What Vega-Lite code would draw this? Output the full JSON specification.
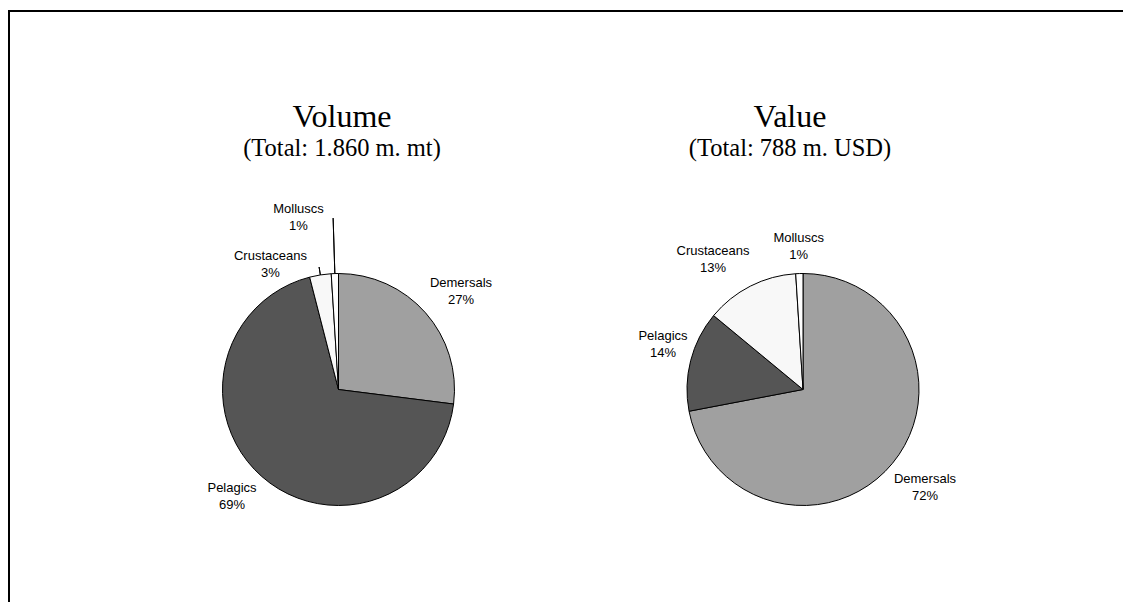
{
  "$schema": "https://vega.github.io/schema/vega-lite/v6.json",
  "width": 1127,
  "height": 757,
  "autosize": {"type": "none"},
  "padding": {"left": 9, "top": 11, "right": -13, "bottom": -166},
  "background": "white",
  "config": {
    "view": {"stroke": "black", "strokeWidth": 2},
    "font": "Liberation Sans"
  },
  "data": {
    "values": [
      {"chart": "Volume", "group": "Demersals", "share": 0.27},
      {"chart": "Volume", "group": "Pelagics", "share": 0.69},
      {"chart": "Volume", "group": "Crustaceans", "share": 0.03},
      {"chart": "Volume", "group": "Molluscs", "share": 0.01},
      {"chart": "Value", "group": "Demersals", "share": 0.72},
      {"chart": "Value", "group": "Pelagics", "share": 0.14},
      {"chart": "Value", "group": "Crustaceans", "share": 0.13},
      {"chart": "Value", "group": "Molluscs", "share": 0.01}
    ]
  },
  "layer": [
    {
      "transform": [
        {"filter": "datum.chart === 'Volume'"},
        {"window": [{"op": "row_number", "as": "rank"}]}
      ],
      "encoding": {
        "x": {"field": "chart", "type": "nominal", "scale": {"type": "point", "domain": ["Volume", "Value"], "range": [329.5, 794], "padding": 0}, "axis": null},
        "theta": {"field": "share", "type": "quantitative", "stack": true, "scale": {"domain": [0, 1]}},
        "order": {"field": "rank", "type": "quantitative"}
      },
      "layer": [
        {
          "mark": {"type": "arc", "radius": 116, "stroke": "black", "strokeWidth": 1},
          "encoding": {
            "color": {"field": "group", "type": "nominal", "scale": {"domain": ["Demersals", "Pelagics", "Crustaceans", "Molluscs"], "range": ["#a0a0a0", "#555555", "#f8f8f8", "#ffffff"]}, "legend": null}
          }
        },
        {
          "mark": {"type": "arc", "innerRadius": 116, "radius": 171.5, "padAngle": 3, "fill": "transparent", "stroke": "black", "strokeWidth": 1},
          "encoding": {
            "detail": {"field": "group"},
            "strokeOpacity": {"condition": {"test": "datum.group === 'Molluscs'", "value": 1}, "value": 0}
          }
        },
        {
          "mark": {"type": "arc", "innerRadius": 116, "radius": 124, "padAngle": 3, "fill": "transparent", "stroke": "black", "strokeWidth": 1},
          "encoding": {
            "detail": {"field": "group"},
            "strokeOpacity": {"condition": {"test": "datum.group === 'Crustaceans'", "value": 1}, "value": 0}
          }
        },
        {
          "mark": {
            "type": "text", "radius": 153, "align": "center", "baseline": "alphabetic",
            "font": "Liberation Sans", "fontSize": 13, "fill": "black",
            "dx": {"expr": "{'Demersals': 7.7, 'Pelagics': -5.3, 'Crustaceans': -44.1, 'Molluscs': -35.2}[datum.group]"},
            "dy": {"expr": "{'Demersals': 2.4, 'Pelagics': -8.6, 'Crustaceans': 25.6, 'Molluscs': -19.9}[datum.group] - 4"}
          },
          "encoding": {"detail": {"field": "group"}, "text": {"field": "group"}}
        },
        {
          "mark": {
            "type": "text", "radius": 153, "align": "center", "baseline": "alphabetic",
            "font": "Liberation Sans", "fontSize": 13, "fill": "black",
            "dx": {"expr": "{'Demersals': 7.7, 'Pelagics': -5.3, 'Crustaceans': -44.1, 'Molluscs': -35.2}[datum.group]"},
            "dy": {"expr": "{'Demersals': 2.4, 'Pelagics': -8.6, 'Crustaceans': 25.6, 'Molluscs': -19.9}[datum.group] + 13"}
          },
          "encoding": {"detail": {"field": "group"}, "text": {"field": "share", "type": "quantitative", "format": ".0%"}}
        }
      ]
    },
    {
      "transform": [
        {"filter": "datum.chart === 'Value'"},
        {"window": [{"op": "row_number", "as": "rank"}]}
      ],
      "encoding": {
        "x": {"field": "chart", "type": "nominal", "scale": {"type": "point", "domain": ["Volume", "Value"], "range": [329.5, 794], "padding": 0}, "axis": null},
        "theta": {"field": "share", "type": "quantitative", "stack": true, "scale": {"domain": [0, 1]}},
        "order": {"field": "rank", "type": "quantitative"}
      },
      "layer": [
        {
          "mark": {"type": "arc", "radius": 116, "stroke": "black", "strokeWidth": 1},
          "encoding": {
            "color": {"field": "group", "type": "nominal", "scale": {"domain": ["Demersals", "Pelagics", "Crustaceans", "Molluscs"], "range": ["#a0a0a0", "#555555", "#f8f8f8", "#ffffff"]}, "legend": null}
          }
        },
        {
          "mark": {
            "type": "text", "radius": 153, "align": "center", "baseline": "alphabetic",
            "font": "Liberation Sans", "fontSize": 13, "fill": "black",
            "dx": {"expr": "{'Demersals': 4.1, 'Pelagics': 8.2, 'Crustaceans': -20.5, 'Molluscs': 0.5}[datum.group]"},
            "dy": {"expr": "{'Demersals': -0.3, 'Pelagics': -7.4, 'Crustaceans': 5.8, 'Molluscs': 9.1}[datum.group] - 4"}
          },
          "encoding": {"detail": {"field": "group"}, "text": {"field": "group"}}
        },
        {
          "mark": {
            "type": "text", "radius": 153, "align": "center", "baseline": "alphabetic",
            "font": "Liberation Sans", "fontSize": 13, "fill": "black",
            "dx": {"expr": "{'Demersals': 4.1, 'Pelagics': 8.2, 'Crustaceans': -20.5, 'Molluscs': 0.5}[datum.group]"},
            "dy": {"expr": "{'Demersals': -0.3, 'Pelagics': -7.4, 'Crustaceans': 5.8, 'Molluscs': 9.1}[datum.group] + 13"}
          },
          "encoding": {"detail": {"field": "group"}, "text": {"field": "share", "type": "quantitative", "format": ".0%"}}
        }
      ]
    },
    {
      "data": {
        "values": [
          {"chart": "Volume", "title": "Volume", "subtitle": "(Total: 1.860 m. mt)"},
          {"chart": "Value", "title": "Value", "subtitle": "(Total: 788 m. USD)"}
        ]
      },
      "encoding": {
        "x": {"field": "chart", "type": "nominal", "scale": {"type": "point", "domain": ["Volume", "Value"], "range": [329.5, 794], "padding": 0}, "axis": null}
      },
      "layer": [
        {
          "mark": {
            "type": "text", "align": "center", "baseline": "alphabetic",
            "font": "Liberation Serif", "fontSize": 32, "fill": "black",
            "dx": {"expr": "datum.chart === 'Value' ? -13 : 3.5"}, "dy": -262.8
          },
          "encoding": {"text": {"field": "title"}}
        },
        {
          "mark": {
            "type": "text", "align": "center", "baseline": "alphabetic",
            "font": "Liberation Serif", "fontSize": 24.5, "fill": "black",
            "dx": {"expr": "datum.chart === 'Value' ? -13 : 3.5"}, "dy": -233.5
          },
          "encoding": {"text": {"field": "subtitle"}}
        }
      ]
    }
  ]
}
